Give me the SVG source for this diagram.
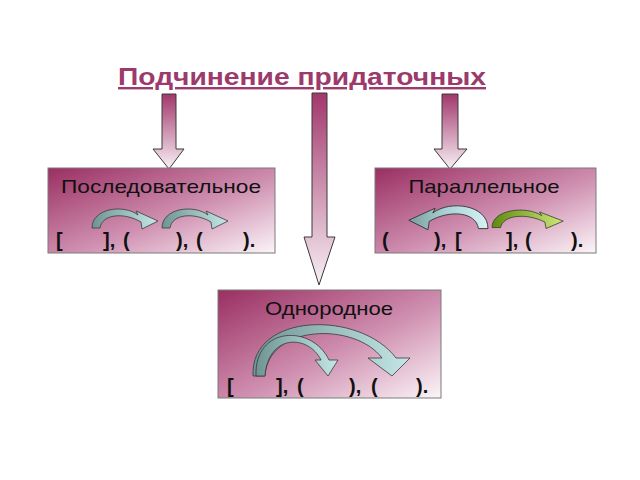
<svg xmlns="http://www.w3.org/2000/svg" xmlns:xlink="http://www.w3.org/1999/xlink" width="640" height="480" viewBox="0 0 640 480">
<defs>
<linearGradient id="boxg" x1="0" y1="0" x2="1" y2="1">
<stop offset="0" stop-color="#9a2f62"/>
<stop offset="0.55" stop-color="#cf8fb0"/>
<stop offset="1" stop-color="#fbf5f8"/>
</linearGradient>
<linearGradient id="arrg" x1="0" y1="0" x2="0" y2="1">
<stop offset="0" stop-color="#a2376c"/>
<stop offset="1" stop-color="#f8f0f4"/>
</linearGradient>
<linearGradient id="tealg" x1="0" y1="0" x2="1" y2="0">
<stop offset="0" stop-color="#6f9494"/>
<stop offset="1" stop-color="#c4e6e6"/>
</linearGradient>
<linearGradient id="cyang" x1="1" y1="0" x2="0" y2="0">
<stop offset="0" stop-color="#7a9c9c"/>
<stop offset="0.45" stop-color="#a8d0d4"/>
<stop offset="1" stop-color="#d6f2f4"/>
</linearGradient>
<linearGradient id="greeng" x1="0" y1="0" x2="1" y2="0">
<stop offset="0" stop-color="#5e8a0c"/>
<stop offset="1" stop-color="#cfe878"/>
</linearGradient>
<path id="carrow" d="M0,18 C0,-2 32,-6 46,5 L44,1 L66,11 L50,19 L49,12 C32,2 10,4 8,18 Z"/>
<style>
.box{fill:url(#boxg);stroke:#7a7a7a;stroke-width:1}
.down{fill:url(#arrg);stroke:#3a3a3a;stroke-width:1}
.lbl{font-family:"Liberation Sans",Arial,sans-serif;font-size:19px;fill:#111;text-anchor:middle}
.br{font-family:"Liberation Sans",Arial,sans-serif;font-size:20px;font-weight:bold;fill:#111}
.ca{stroke:#3a3a3a;stroke-width:0.8}
</style>
</defs>
<rect width="640" height="480" fill="#ffffff"/>
<text x="302" y="85" font-family="'Liberation Sans',Arial,sans-serif" font-size="24" font-weight="bold" fill="#9b3a6b" text-anchor="middle" text-decoration="underline" textLength="368" lengthAdjust="spacingAndGlyphs">Подчинение придаточных</text>
<g id="connectors">
<path class="down" d="M162,94 H176 V149 H184 L169,169 L153,149 H162 Z"/>
<path class="down" d="M442,94 H458 V149 H467 L450,169 L434,149 H442 Z"/>
<path class="down" d="M312,93 H327 V237 H335 L319,285 L304,237 H312 Z"/>
</g>
<g id="node-posl">
<rect class="box" x="48" y="168" width="227" height="85"/>
<text class="lbl" x="161" y="193" textLength="200" lengthAdjust="spacingAndGlyphs">Последовательное</text>
<use xlink:href="#carrow" class="ca" fill="url(#tealg)" transform="translate(92,210)"/>
<use xlink:href="#carrow" class="ca" fill="url(#tealg)" transform="translate(162,210)"/>
<text class="br" y="247"><tspan x="56">[</tspan><tspan x="103">],</tspan><tspan x="123">(</tspan><tspan x="176">),</tspan><tspan x="196">(</tspan><tspan x="243">).</tspan></text>
</g>
<g id="node-par">
<rect class="box" x="375" y="168" width="221" height="85"/>
<text class="lbl" x="484" y="193" textLength="151" lengthAdjust="spacingAndGlyphs">Параллельное</text>
<use xlink:href="#carrow" class="ca" fill="url(#cyang)" transform="translate(488,207) scale(-1.2,1.2)"/>
<use xlink:href="#carrow" class="ca" fill="url(#greeng)" transform="translate(492,211) scale(1.08,0.92)"/>
<text class="br" y="247"><tspan x="382">(</tspan><tspan x="434">),</tspan><tspan x="455">[</tspan><tspan x="506">],</tspan><tspan x="525">(</tspan><tspan x="571">).</tspan></text>
</g>
<g id="node-odn">
<rect class="box" x="218" y="290" width="223" height="108"/>
<text class="lbl" x="329" y="315" textLength="128" lengthAdjust="spacingAndGlyphs">Однородное</text>
<path class="ca" fill="url(#tealg)" d="M253,376 C250,312 360,310 396,358 L410,358 L392,376 L368,358 L382,358 C355,322 268,324 265,376 Z"/>
<path class="ca" fill="url(#tealg)" d="M256,376 C254,326 312,324 329,360 L338,360 L328,376 L315,360 L321,360 C308,334 268,334 265,376 Z"/>
<text class="br" y="393"><tspan x="227">[</tspan><tspan x="276">],</tspan><tspan x="297">(</tspan><tspan x="349">),</tspan><tspan x="371">(</tspan><tspan x="416">).</tspan></text>
</g>
</svg>
